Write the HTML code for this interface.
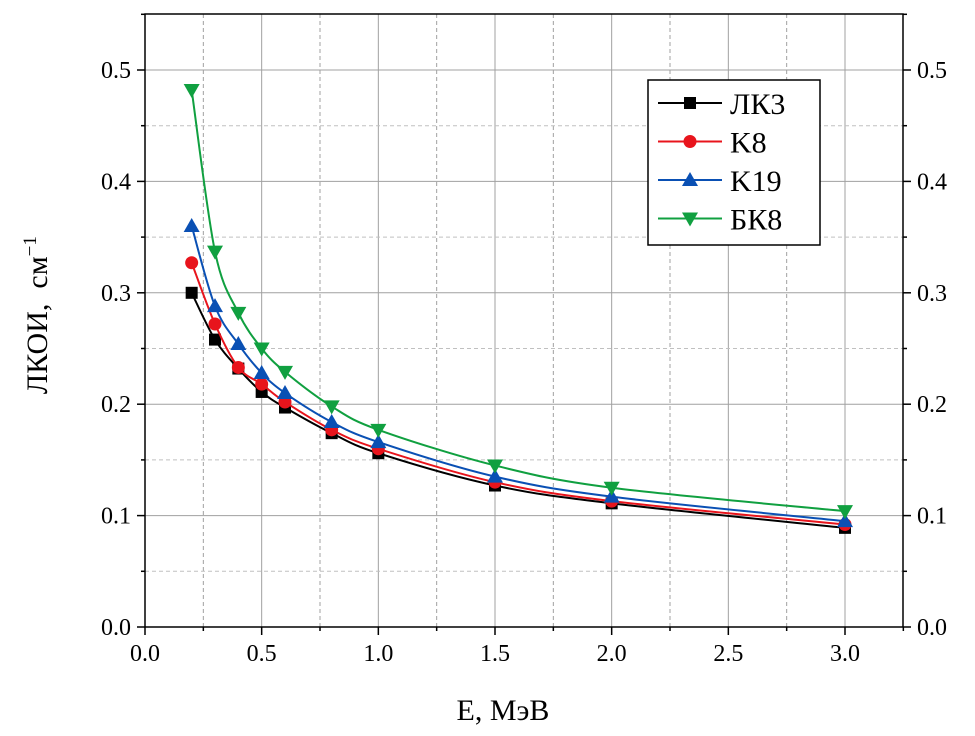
<!DOCTYPE html>
<html><head><meta charset="utf-8"><style>
body{margin:0;background:#fff}
svg text{font-family:"Liberation Serif",serif;fill:#000}
</style></head><body>
<svg id="chart" width="975" height="731"></svg>
<script>
const energies=[0.2,0.3,0.4,0.5,0.6,0.8,1.0,1.5,2.0,3.0];
const lk3=[0.300,0.258,0.232,0.211,0.197,0.174,0.156,0.127,0.111,0.089];
const k8=[0.327,0.272,0.233,0.218,0.202,0.177,0.160,0.130,0.113,0.092];
const k19=[0.360,0.288,0.254,0.228,0.210,0.184,0.166,0.135,0.117,0.095];
const bk8=[0.482,0.337,0.282,0.250,0.229,0.198,0.177,0.145,0.125,0.104];
const seriesNames=["ЛК3","K8","K19","БК8"];
const xTicks=["0.0","0.5","1.0","1.5","2.0","2.5","3.0"];
const yTicks=["0.0","0.1","0.2","0.3","0.4","0.5"];

const NS="http://www.w3.org/2000/svg";
const svg=document.getElementById('chart');
const L=145,R=903,T=14,B=627;
const X=v=>L+v*(845-145)/3;
const Y=v=>B-v*(627-70)/0.5;
function el(t,a,p){const e=document.createElementNS(NS,t);for(const k in a)e.setAttribute(k,a[k]);(p||svg).appendChild(e);return e;}

for(let i=1;i<=6;i++){const v=i*0.5;const g=el('line',{x1:X(v),x2:X(v),y1:T,y2:B,stroke:'#a0a0a0','stroke-width':1});}
for(let i=0;i<6;i++){const v=0.25+i*0.5;const g=el('line',{x1:X(v),x2:X(v),y1:T,y2:B,stroke:'#a0a0a0','stroke-width':1,'stroke-dasharray':'4,3'});}
for(let i=1;i<=5;i++){const v=i*0.1;const g=el('line',{x1:L,x2:R,y1:Y(v),y2:Y(v),stroke:'#a0a0a0','stroke-width':1});}
for(let i=0;i<5;i++){const v=0.05+i*0.1;const g=el('line',{x1:L,x2:R,y1:Y(v),y2:Y(v),stroke:'#c0c0c0','stroke-width':1,'stroke-dasharray':'4,3'});}

const fr=el('rect',{x:L,y:T,width:R-L,height:B-T,fill:'none',stroke:'#000','stroke-width':1.5});


xTicks.forEach((t,i)=>{const v=i*0.5;
 el('line',{x1:X(v),x2:X(v),y1:B,y2:B+8,stroke:'#000','stroke-width':1.5});
 el('line',{x1:X(v+0.25),x2:X(v+0.25),y1:B,y2:B+4,stroke:'#000','stroke-width':1.5});
 const tx=el('text',{x:X(v),y:B+34,'text-anchor':'middle','font-size':24});tx.textContent=t;
 });
yTicks.forEach((t,i)=>{const v=i*0.1;
 el('line',{x1:L-8,x2:L,y1:Y(v),y2:Y(v),stroke:'#000','stroke-width':1.5});
 el('line',{x1:R,x2:R+8,y1:Y(v),y2:Y(v),stroke:'#000','stroke-width':1.5});
 el('line',{x1:L-4,x2:L,y1:Y(v+0.05),y2:Y(v+0.05),stroke:'#000','stroke-width':1.5});
 el('line',{x1:R,x2:R+4,y1:Y(v+0.05),y2:Y(v+0.05),stroke:'#000','stroke-width':1.5});
 const a=el('text',{x:L-14,y:Y(v)+8,'text-anchor':'end','font-size':24});a.textContent=t;
 
 const b=el('text',{x:R+14,y:Y(v)+8,'text-anchor':'start','font-size':24});b.textContent=t;
 });

const xt=el('text',{x:X(1.5)+8,y:720,'text-anchor':'middle','font-size':30});xt.textContent='E, МэВ';

const yt=el('text',{x:0,y:0,'text-anchor':'middle','font-size':30,transform:`translate(47,${Y(0.28)}) rotate(-90)`});
yt.innerHTML='ЛКОИ,&#160;&#160;см<tspan dy="-11" font-size="19">−1</tspan>';


function pathD(xs,ys){const p=xs.map((x,i)=>[X(x),Y(ys[i])]);let d=`M${p[0][0]},${p[0][1]}`;
 for(let i=0;i<p.length-1;i++){const p0=p[Math.max(0,i-1)],p1=p[i],p2=p[i+1],p3=p[Math.min(p.length-1,i+2)];
 const c1=[p1[0]+(p2[0]-p0[0])/6,p1[1]+(p2[1]-p0[1])/6],c2=[p2[0]-(p3[0]-p1[0])/6,p2[1]-(p3[1]-p1[1])/6];
 d+=` C${c1[0]},${c1[1]} ${c2[0]},${c2[1]} ${p2[0]},${p2[1]}`;}return d;}
function marker(type,cx,cy,color,parent){
 if(type==='sq')return el('rect',{x:cx-6,y:cy-6,width:12,height:12,fill:color},parent);
 if(type==='ci')return el('circle',{cx:cx,cy:cy,r:6.5,fill:color},parent);
 if(type==='up')return el('polygon',{points:`${cx},${cy-8} ${cx-8},${cy+6} ${cx+8},${cy+6}`,fill:color},parent);
 return el('polygon',{points:`${cx},${cy+8} ${cx-8},${cy-6} ${cx+8},${cy-6}`,fill:color},parent);}
const series=[[lk3,'#000','sq','lk3'],[k8,'#e8141c','ci','k8'],[k19,'#0a50b4','up','k19'],[bk8,'#10a040','dn','bk8']];
series.forEach(([vals,c,m,n])=>{
 const g=el('g',{});
 const ln=el('path',{d:pathD(energies,vals),fill:'none',stroke:c,'stroke-width':2},g);
 
 vals.forEach((v,i)=>{const mk=marker(m,X(energies[i]),Y(v),c,g);
 });
});

const lg=el('g',{});
el('rect',{x:648,y:80,width:172,height:165,fill:'#fff',stroke:'#000','stroke-width':1.5},lg);
series.forEach(([vals,c,m,n],i)=>{const y=103+i*38.5;
 const e=el('g',{},lg);
 el('line',{x1:658,x2:722,y1:y,y2:y,stroke:c,'stroke-width':2},e);
 marker(m,690,y,c,e);
 const t=el('text',{x:730,y:y+11,'font-size':30},e);t.textContent=seriesNames[i];});
</script>
</body></html>
